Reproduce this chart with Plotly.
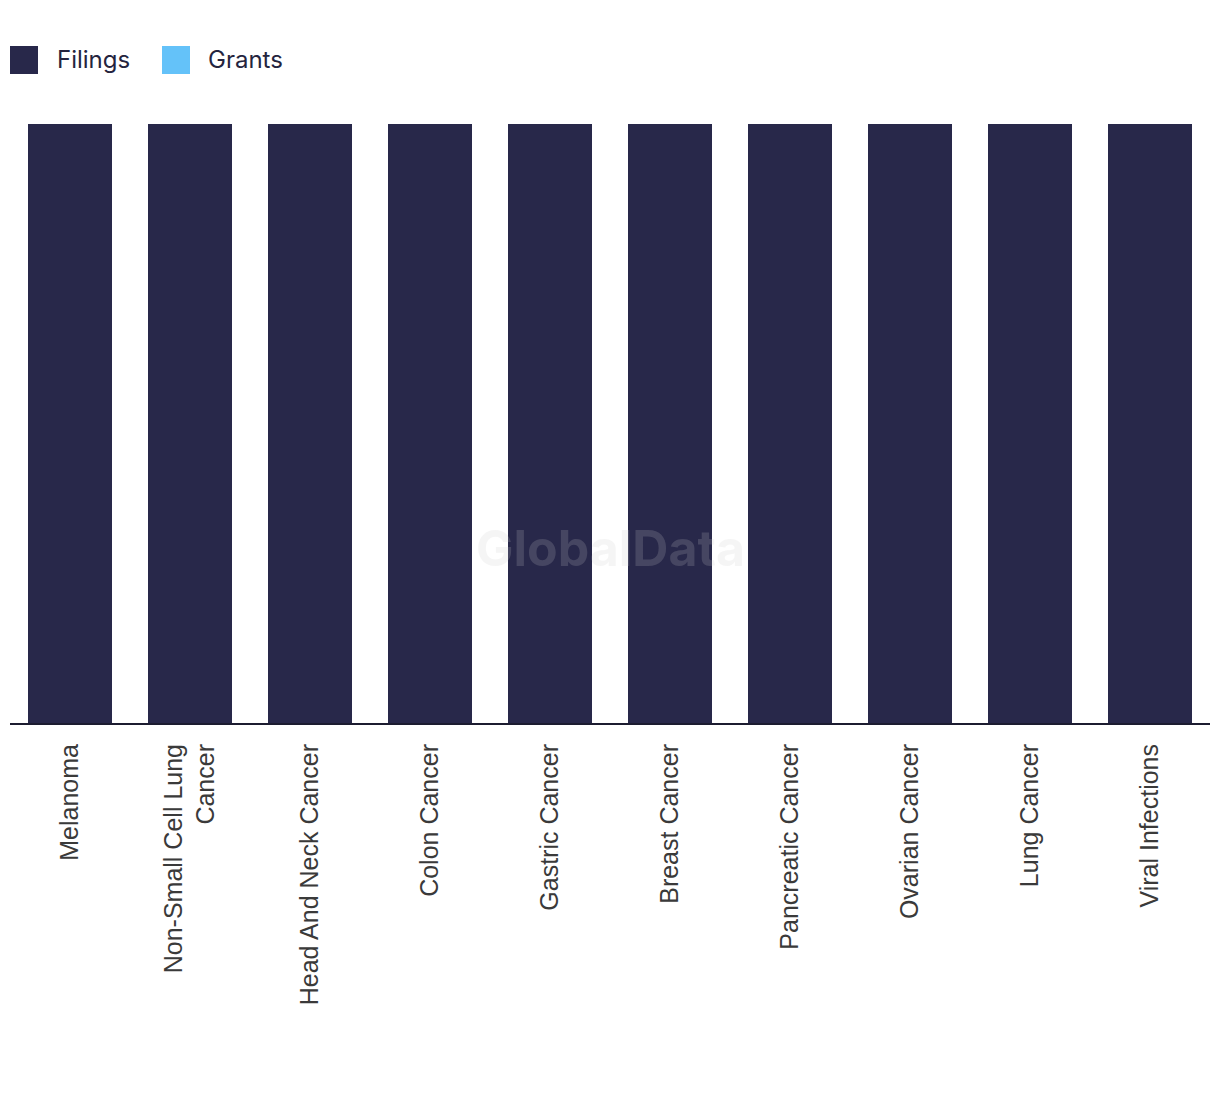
import plotly.graph_objects as go

categories = ["Melanoma", "Non-Small Cell Lung<br>Cancer", "Head And Neck Cancer", "Colon Cancer",
              "Gastric Cancer", "Breast Cancer", "Pancreatic Cancer", "Ovarian Cancer",
              "Lung Cancer", "Viral Infections"]
filings = [100, 100, 100, 100, 100, 100, 100, 100, 100, 100]
grants = [0, 0, 0, 0, 0, 0, 0, 0, 0, 0]

NAVY = "#28284a"
BLUE = "#64c2f9"

fig = go.Figure()
fig.add_trace(go.Bar(x=categories, y=filings, name="Filings", marker=dict(color=NAVY, line=dict(width=0)),
                     showlegend=False))
fig.add_trace(go.Bar(x=categories, y=grants, name="Grants", marker=dict(color=BLUE, line=dict(width=0)),
                     showlegend=False))

# page body adds 8px offset; compensate
fig.update_layout(
    width=1212, height=1086,
    barmode="stack", bargap=0.3,
    paper_bgcolor="white", plot_bgcolor="white",
    margin=dict(l=2, r=10, t=116, b=371, autoexpand=False),
    xaxis=dict(showgrid=False, showline=True, linecolor="#1c1c30", linewidth=2,
               ticks="", tickangle=-90, ticklabelstandoff=9,
               tickfont=dict(family="Liberation Sans, Arial", size=25, color="#3a3a3a")),
    yaxis=dict(range=[0, 100], visible=False, showgrid=False, zeroline=False),
    font=dict(family="Inter, Liberation Sans"),
)

PW, PH = 1200, 599
for x0, label, col, tx in [(10, "Filings", NAVY, 55), (162, "Grants", BLUE, 206)]:
    fig.add_shape(type="rect", xref="paper", yref="paper",
                  x0=(x0 - 10) / PW, x1=(x0 + 28 - 10) / PW,
                  y0=(723 - 74) / PH, y1=(723 - 46) / PH,
                  fillcolor=col, line=dict(width=0))
    fig.add_annotation(text=label, xref="paper", yref="paper",
                       x=(tx - 10) / PW, y=(723 - 59) / PH, xanchor="left", yanchor="middle",
                       showarrow=False, font=dict(family="Inter", size=24, color="#24243e"))

fig.add_annotation(text="<b>GlobalData</b>", xref="paper", yref="paper", x=0.5, y=(723 - 548) / PH,
                   xanchor="center", yanchor="middle",
                   showarrow=False, font=dict(family="Inter", size=50, color="rgba(201,201,201,0.19)"))

fig.write_html("out.html")
